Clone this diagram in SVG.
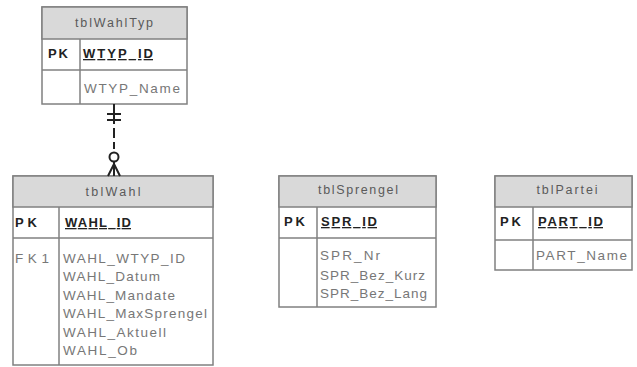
<svg xmlns="http://www.w3.org/2000/svg" width="637" height="367" viewBox="0 0 637 367">
<style>
.box{fill:#fff;stroke:#808080;stroke-width:1.5}
.hdr{fill:#d9d9d9;stroke:#808080;stroke-width:1.5}
.ln{stroke:#808080;stroke-width:1.5}
.title{font-family:"Liberation Sans",Arial,sans-serif;font-size:12.5px;fill:#5a5a5a;text-anchor:middle}
.pk{font-family:"Liberation Sans",Arial,sans-serif;font-size:13px;font-weight:bold;fill:#222}
.key{font-family:"Liberation Sans",Arial,sans-serif;font-size:13px;font-weight:bold;fill:#222;text-decoration:underline}
.fk{font-family:"Liberation Sans",Arial,sans-serif;font-size:13.5px;fill:#777}
.att{font-family:"Liberation Sans",Arial,sans-serif;font-size:13.5px;fill:#777}
.conn{stroke:#222;stroke-width:2;fill:none}
</style>
<rect width="637" height="367" fill="#fff"/>
<g id="tblWahlTyp">
<rect class="box" x="42" y="7" width="145" height="97"/>
<rect class="hdr" x="42" y="7" width="145" height="32"/>
<line class="ln" x1="42" y1="70" x2="187" y2="70"/>
<line class="ln" x1="80" y1="39" x2="80" y2="104"/>
<text class="title" x="114" y="27" textLength="78" lengthAdjust="spacing">tblWahlTyp</text>
<text class="pk" x="48" y="58" textLength="20" lengthAdjust="spacing">PK</text>
<text class="key" x="83" y="58" textLength="70" lengthAdjust="spacing">WTYP_ID</text>
<text class="att" x="84" y="93" textLength="96" lengthAdjust="spacing">WTYP_Name</text>
</g>
<g id="tblWahl">
<rect class="box" x="13" y="176" width="200" height="189"/>
<rect class="hdr" x="13" y="176" width="200" height="31"/>
<line class="ln" x1="13" y1="238" x2="213" y2="238"/>
<line class="ln" x1="59" y1="207" x2="59" y2="365"/>
<text class="title" x="113" y="196" textLength="55" lengthAdjust="spacing">tblWahl</text>
<text class="pk" x="15" y="227" textLength="22" lengthAdjust="spacing">PK</text>
<text class="key" x="65" y="227" textLength="66" lengthAdjust="spacing">WAHL_ID</text>
<text class="fk" x="15" y="263" textLength="34" lengthAdjust="spacing">FK1</text>
<text class="att" x="63" y="263" textLength="122" lengthAdjust="spacing">WAHL_WTYP_ID</text>
<text class="att" x="63" y="281" textLength="97" lengthAdjust="spacing">WAHL_Datum</text>
<text class="att" x="63" y="300" textLength="112" lengthAdjust="spacing">WAHL_Mandate</text>
<text class="att" x="63" y="318" textLength="144" lengthAdjust="spacing">WAHL_MaxSprengel</text>
<text class="att" x="63" y="337" textLength="103" lengthAdjust="spacing">WAHL_Aktuell</text>
<text class="att" x="63" y="355" textLength="74" lengthAdjust="spacing">WAHL_Ob</text>
</g>
<g id="tblSprengel">
<rect class="box" x="279" y="176" width="157" height="131"/>
<rect class="hdr" x="279" y="176" width="157" height="31"/>
<line class="ln" x1="279" y1="238" x2="436" y2="238"/>
<line class="ln" x1="317" y1="207" x2="317" y2="307"/>
<text class="title" x="358" y="194" textLength="80" lengthAdjust="spacing">tblSprengel</text>
<text class="pk" x="284" y="226" textLength="21" lengthAdjust="spacing">PK</text>
<text class="key" x="321" y="226" textLength="56" lengthAdjust="spacing">SPR_ID</text>
<text class="att" x="320" y="260" textLength="60" lengthAdjust="spacing">SPR_Nr</text>
<text class="att" x="320" y="280" textLength="105" lengthAdjust="spacing">SPR_Bez_Kurz</text>
<text class="att" x="320" y="298" textLength="107" lengthAdjust="spacing">SPR_Bez_Lang</text>
</g>
<g id="tblPartei">
<rect class="box" x="495" y="176" width="137" height="94"/>
<rect class="hdr" x="495" y="176" width="137" height="31"/>
<line class="ln" x1="495" y1="240" x2="632" y2="240"/>
<line class="ln" x1="533" y1="207" x2="533" y2="270"/>
<text class="title" x="567" y="194" textLength="61" lengthAdjust="spacing">tblPartei</text>
<text class="pk" x="500" y="226" textLength="21" lengthAdjust="spacing">PK</text>
<text class="key" x="538" y="226" textLength="65" lengthAdjust="spacing">PART_ID</text>
<text class="att" x="536" y="260" textLength="91" lengthAdjust="spacing">PART_Name</text>
</g>
<g id="connectors">
<line class="conn" x1="114" y1="104" x2="114" y2="124"/>
<line class="conn" x1="107" y1="114" x2="121" y2="114"/>
<line class="conn" x1="107" y1="120" x2="121" y2="120"/>
<line class="conn" x1="114" y1="128" x2="114" y2="138"/>
<line class="conn" x1="114" y1="142" x2="114" y2="149"/>
<circle class="conn" cx="114" cy="157" r="4.5"/>
<line class="conn" x1="114" y1="161.5" x2="114" y2="176"/>
<path class="conn" d="M108,176 L114,164 L120,176"/>
</g>
</svg>
